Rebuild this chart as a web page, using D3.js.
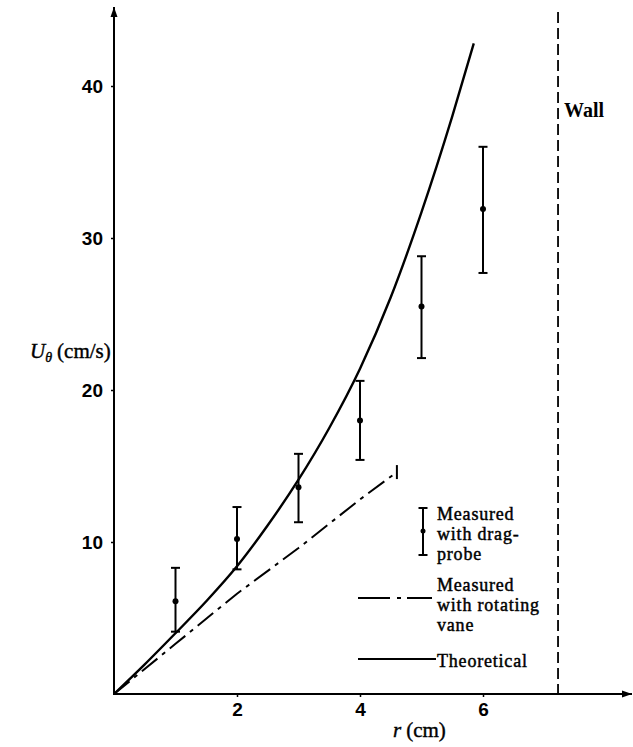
<!DOCTYPE html>
<html>
<head>
<meta charset="utf-8">
<script src="https://cdn.jsdelivr.net/npm/d3@7"></script>
<style>
  body { margin: 0; background: #fff; }
  .tick-label { font-family: "Liberation Sans", Arial, sans-serif; font-weight: bold; font-size: 19px; }
  .serif { font-family: "Liberation Serif", "Times New Roman", serif; fill: #000; }
</style>
</head>
<body>
<div id="chart"></div>
<script>
// drag-probe measurements (r in cm, U in cm/s)
let dragR = [1, 2, 3, 4, 5, 6];
let dragMean = [6.1, 10.2, 13.6, 18.0, 25.5, 31.9];
let dragLow = [4.1, 8.2, 11.3, 15.4, 22.1, 27.7];
let dragHigh = [8.3, 12.3, 15.8, 20.6, 28.8, 36.0];

// rotating vane
let vaneR = [0, 1, 2, 3, 4, 4.6];
let vaneU = [0, 3.3, 6.6, 9.6, 12.8, 14.6];

// theoretical curve
let theoR = [0, 0.5, 1, 1.5, 2, 2.5, 3, 3.5, 4, 4.5, 5, 5.5, 5.85];
let theoU = [0, 1.95, 4.0, 6.1, 8.4, 11.1, 14.1, 17.5, 21.4, 26.1, 31.7, 38.0, 42.8];

let wallR = 7.22;
let xTicks = [2, 4, 6];
let yTicks = [10, 20, 30, 40];

let width = 633, height = 747;

let svg = d3.select('#chart').append('svg')
    .attr('width', width)
    .attr('height', height);

let x = d3.scaleLinear().domain([0, 6]).range([114, 483]);
let y = d3.scaleLinear().domain([0, 40]).range([694, 86]);

// arrow heads
let defs = svg.append('defs');
defs.append('marker')
    .attr('id', 'arrow')
    .attr('viewBox', '0 0 10 10')
    .attr('refX', 10).attr('refY', 5)
    .attr('markerWidth', 10).attr('markerHeight', 10)
    .attr('markerUnits', 'userSpaceOnUse')
    .attr('orient', 'auto')
    .append('path')
    .attr('d', 'M0,1.5 L10,5 L0,8.5 Z')
    .attr('fill', '#000');

// axes lines
svg.append('line')
    .attr('x1', x(0)).attr('y1', y(0))
    .attr('x2', x(0)).attr('y2', 7)
    .attr('stroke', '#000').attr('stroke-width', 2)
    .attr('marker-end', 'url(#arrow)');

svg.append('line')
    .attr('x1', x(0) - 1).attr('y1', y(0))
    .attr('x2', 632).attr('y2', y(0))
    .attr('stroke', '#000').attr('stroke-width', 2)
    .attr('marker-end', 'url(#arrow)');

let yAxis = svg.append('g')
    .attr('transform', `translate(${x(0)},0)`)
    .call(d3.axisLeft(y).tickValues(yTicks).tickSize(3).tickPadding(8).tickFormat(d3.format('d')));
yAxis.select('.domain').remove();
yAxis.selectAll('line').attr('stroke-width', 1.5);
yAxis.selectAll('text').attr('class', 'tick-label').attr('fill', '#000').attr('dy', '0.35em');

let xAxis = svg.append('g')
    .attr('transform', `translate(0,${y(0)})`)
    .call(d3.axisBottom(x).tickValues(xTicks).tickSize(3).tickPadding(6).tickFormat(d3.format('d')));
xAxis.select('.domain').remove();
xAxis.selectAll('line').attr('stroke-width', 1.5);
xAxis.selectAll('text').attr('class', 'tick-label').attr('fill', '#000');

// axis titles
let yTitle = svg.append('text').attr('class', 'serif')
    .attr('x', 30).attr('y', 358).attr('font-size', 21)
    .attr('stroke', '#000').attr('stroke-width', 0.4);
yTitle.append('tspan').attr('font-style', 'italic').text('U');
yTitle.append('tspan').attr('font-style', 'italic').attr('font-size', 14)
    .attr('dy', 4).text('θ');
yTitle.append('tspan').attr('dy', -4).attr('dx', 5).text('(cm/s)');

let xTitle = svg.append('text').attr('class', 'serif')
    .attr('x', 393).attr('y', 737).attr('font-size', 21)
    .attr('stroke', '#000').attr('stroke-width', 0.4);
xTitle.append('tspan').attr('font-style', 'italic').text('r');
xTitle.append('tspan').attr('dx', 5).text('(cm)');

// wall
svg.append('line')
    .attr('x1', x(wallR)).attr('x2', x(wallR))
    .attr('y1', 12).attr('y2', y(0))
    .attr('stroke', '#000').attr('stroke-width', 1.8)
    .attr('stroke-dasharray', '11 5');

svg.append('text').attr('class', 'serif')
    .attr('x', x(wallR) + 6).attr('y', 117)
    .attr('font-size', 20).attr('font-weight', 'bold')
    .text('Wall');

// theoretical
let theo = theoR.map((r, i) => [r, theoU[i]]);
let line = d3.line().x(d => x(d[0])).y(d => y(d[1]));

svg.append('path')
    .datum(theo)
    .attr('fill', 'none')
    .attr('stroke', '#000')
    .attr('stroke-width', 2.4)
    .attr('d', line.curve(d3.curveMonotoneX));

// rotating vane
let vane = vaneR.map((r, i) => [r, vaneU[i]]);
svg.append('path')
    .datum(vane)
    .attr('fill', 'none')
    .attr('stroke', '#000')
    .attr('stroke-width', 2)
    .attr('stroke-dasharray', '20 6 4 6')
    .attr('d', d3.line().x(d => x(d[0])).y(d => y(d[1]))(vane));

let last = vane[vane.length - 1];
svg.append('line')
    .attr('x1', x(last[0])).attr('x2', x(last[0]))
    .attr('y1', y(last[1]) - 7).attr('y2', y(last[1]) + 7)
    .attr('stroke', '#000').attr('stroke-width', 2);

// drag probe error bars
let bars = svg.append('g').selectAll('g')
    .data(dragR.map((r, i) => ({r: r, m: dragMean[i], lo: dragLow[i], hi: dragHigh[i]})))
    .enter().append('g');

bars.append('line')
    .attr('x1', d => x(d.r)).attr('x2', d => x(d.r))
    .attr('y1', d => y(d.lo)).attr('y2', d => y(d.hi))
    .attr('stroke', '#000').attr('stroke-width', 2);
bars.append('line')
    .attr('x1', d => x(d.r) - 4.5).attr('x2', d => x(d.r) + 4.5)
    .attr('y1', d => y(d.hi)).attr('y2', d => y(d.hi))
    .attr('stroke', '#000').attr('stroke-width', 2);
bars.append('line')
    .attr('x1', d => x(d.r) - 4.5).attr('x2', d => x(d.r) + 4.5)
    .attr('y1', d => y(d.lo)).attr('y2', d => y(d.lo))
    .attr('stroke', '#000').attr('stroke-width', 2);
bars.append('circle')
    .attr('cx', d => x(d.r)).attr('cy', d => y(d.m))
    .attr('r', 3).attr('fill', '#000');

// legend
let legend = svg.append('g');
let lx = 423;
legend.append('line')
    .attr('x1', lx).attr('x2', lx).attr('y1', 508).attr('y2', 555)
    .attr('stroke', '#000').attr('stroke-width', 2);
legend.append('line')
    .attr('x1', lx - 4.5).attr('x2', lx + 4.5).attr('y1', 508).attr('y2', 508)
    .attr('stroke', '#000').attr('stroke-width', 2);
legend.append('line')
    .attr('x1', lx - 4.5).attr('x2', lx + 4.5).attr('y1', 555).attr('y2', 555)
    .attr('stroke', '#000').attr('stroke-width', 2);
legend.append('circle').attr('cx', lx).attr('cy', 531).attr('r', 2.5).attr('fill', '#000');

legend.append('line')
    .attr('x1', 358).attr('x2', 432).attr('y1', 598).attr('y2', 598)
    .attr('stroke', '#000').attr('stroke-width', 2)
    .attr('stroke-dasharray', '32 7 4 6');

legend.append('line')
    .attr('x1', 358).attr('x2', 436).attr('y1', 659).attr('y2', 659)
    .attr('stroke', '#000').attr('stroke-width', 2);

let legendText = [
    ['Measured', 520], ['with drag-', 540], ['probe', 560],
    ['Measured', 591], ['with rotating', 611], ['vane', 631],
    ['Theoretical', 667]
];
legend.selectAll('text.lt')
    .data(legendText)
    .enter().append('text')
    .attr('class', 'serif lt')
    .attr('x', 437)
    .attr('y', d => d[1])
    .attr('font-size', 18)
    .attr('letter-spacing', 0.8)
    .attr('stroke', '#000').attr('stroke-width', 0.45)
    .text(d => d[0]);
</script>
</body>
</html>
